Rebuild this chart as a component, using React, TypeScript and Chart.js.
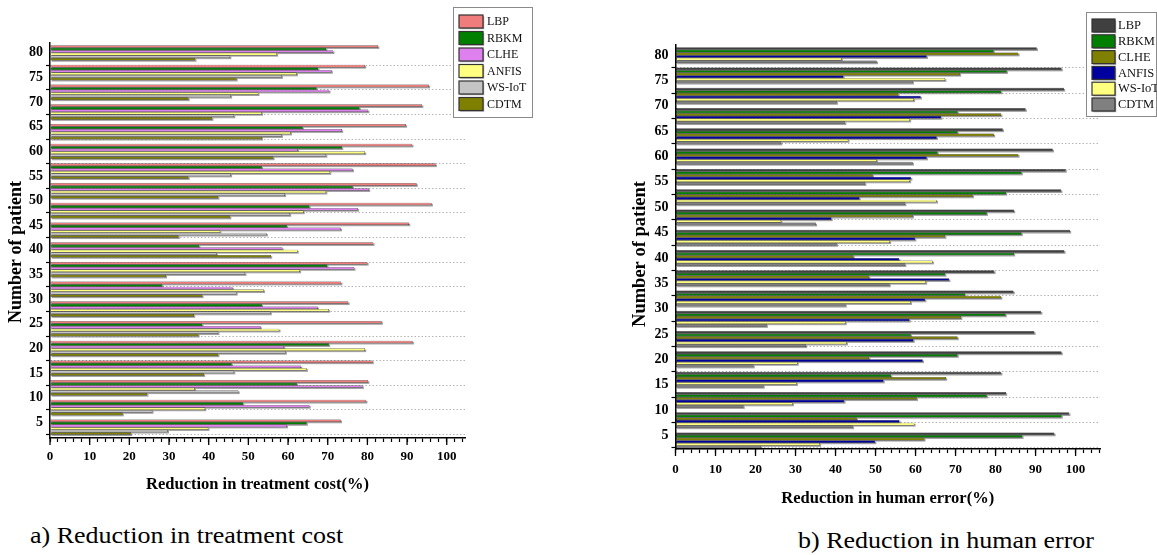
import React, { useEffect, useRef } from 'react';
import { Chart, registerables } from 'chart.js';

Chart.register(...registerables);

const FONT = "'Liberation Serif', 'Times New Roman', serif";

// Patient numbers (one group of bars per value), top to bottom
const patients = [80, 76, 72, 68, 64, 60, 56, 52, 48, 44, 40, 36, 32, 28, 24, 20, 16, 12, 8, 4];
const seriesNames = ['LBP', 'RBKM', 'CLHE', 'ANFIS', 'WS-IoT', 'CDTM'];

// (a) Reduction in treatment cost (%)
const costLBP = [82.7, 79.4, 95.5, 93.8, 89.7, 91.3, 97.2, 92.4, 96.2, 90.5, 81.5, 80.0, 73.4, 75.2, 83.6, 91.4, 81.3, 80.2, 79.7, 73.3];
const costRBKM = [69.6, 67.6, 67.2, 78.0, 63.7, 73.6, 53.4, 76.3, 65.4, 59.7, 37.6, 69.9, 28.3, 53.4, 38.4, 70.3, 45.8, 62.2, 48.7, 64.7];
const costCLHE = [71.4, 71.0, 70.4, 80.2, 73.6, 62.5, 76.3, 80.4, 77.6, 73.3, 58.6, 76.7, 46.0, 67.5, 53.1, 59.0, 63.3, 78.8, 65.4, 59.7];
const costANFIS = [57.2, 62.2, 52.5, 53.4, 60.7, 79.4, 70.6, 69.6, 63.9, 42.9, 62.4, 63.0, 53.9, 70.3, 57.8, 79.4, 64.7, 36.5, 39.1, 39.9];
const costWSIoT = [45.4, 58.4, 45.6, 46.4, 58.4, 69.6, 45.6, 59.2, 60.5, 54.6, 42.0, 49.2, 47.0, 55.6, 42.4, 59.4, 46.4, 47.5, 25.8, 29.7];
const costCDTM = [36.6, 47.0, 34.9, 40.9, 53.4, 56.3, 34.9, 42.4, 45.4, 32.4, 55.7, 29.2, 38.4, 36.3, 37.4, 42.4, 38.8, 24.5, 18.3, 20.4];

// (b) Reduction in human error (%)
const errLBP = [90.3, 96.5, 97.1, 87.5, 81.8, 94.3, 97.5, 96.4, 84.6, 98.6, 97.2, 79.7, 84.5, 91.4, 89.7, 96.5, 81.4, 82.6, 98.4, 94.7];
const errRBKM = [79.5, 82.8, 81.4, 70.5, 70.5, 65.5, 86.5, 82.6, 77.8, 86.5, 84.6, 67.4, 72.4, 82.5, 58.8, 70.5, 53.9, 77.8, 96.5, 86.7];
const errCLHE = [85.7, 71.1, 55.7, 81.4, 79.6, 85.7, 49.3, 74.3, 59.3, 67.4, 44.5, 48.4, 81.4, 71.4, 70.5, 48.4, 67.6, 60.3, 45.3, 62.2];
const errANFIS = [62.8, 42.0, 61.3, 66.4, 65.3, 62.8, 58.9, 46.0, 39.0, 59.9, 55.9, 68.4, 62.4, 58.5, 59.5, 61.8, 52.0, 42.2, 56.0, 49.9];
const errWSIoT = [41.5, 67.4, 59.6, 58.6, 43.2, 50.3, 58.6, 65.3, 26.4, 53.6, 64.3, 62.6, 58.8, 42.5, 42.8, 30.5, 30.3, 29.3, 59.7, 36.1];
const errCDTM = [50.3, 59.3, 40.3, 42.4, 26.4, 59.3, 47.4, 57.4, 35.1, 40.3, 57.4, 53.5, 42.5, 22.8, 32.6, 19.5, 22.0, 17.0, 44.3, 21.4];

const costColors = ['#F07C7C', '#007F00', '#DF80EF', '#FFFF80', '#C4C4C4', '#7F7F00'];
const errColors = ['#404040', '#007F00', '#7F7F00', '#00009F', '#FFFF80', '#808080'];

const xTickStep = 2;
const xLabelStep = 10;
const yTickStep = 5;

const shadowPlugin = {
  id: 'barShadow',
  beforeDatasetsDraw(chart: any) {
    const ctx = chart.ctx;
    ctx.save();
    ctx.fillStyle = 'rgba(120,120,120,0.7)';
    chart.data.datasets.forEach((_ds: any, i: number) => {
      const meta = chart.getDatasetMeta(i);
      meta.data.forEach((el: any) => {
        const p = el.getProps(['x', 'y', 'base', 'height'], true);
        const left = Math.min(p.base, p.x);
        const w = Math.abs(p.x - p.base);
        ctx.fillRect(left + 1.2, p.y - p.height / 2 + 1.2, w, p.height);
      });
    });
    ctx.restore();
  },
};

const majorTickPlugin = {
  id: 'majorTicks',
  afterDraw(chart: any) {
    const sc = chart.scales.x;
    const ctx = chart.ctx;
    ctx.save();
    ctx.strokeStyle = '#000';
    ctx.lineWidth = 1.3;
    sc.ticks.forEach((t: any, i: number) => {
      if (Math.abs(t.value % xLabelStep) > 1e-6) return;
      const px = sc.getPixelForTick(i);
      ctx.beginPath();
      ctx.moveTo(px, chart.chartArea.bottom);
      ctx.lineTo(px, chart.chartArea.bottom + 7);
      ctx.stroke();
    });
    ctx.restore();
  },
};

const yTitlePlugin = {
  id: 'yTitle',
  afterDraw(chart: any, _args: any, opts: any) {
    if (!opts || !opts.text) return;
    const ctx = chart.ctx;
    ctx.save();
    ctx.translate(opts.x, opts.y);
    ctx.rotate(-Math.PI / 2);
    ctx.fillStyle = '#000';
    ctx.font = opts.font;
    ctx.textAlign = 'center';
    ctx.textBaseline = 'middle';
    ctx.fillText(opts.text, 0, 0);
    ctx.restore();
  },
};

const legendBoxPlugin = {
  id: 'legendBox',
  afterDraw(chart: any, _args: any, opts: any) {
    if (!opts || opts.bx === undefined) return;
    const ctx = chart.ctx;
    ctx.save();
    ctx.fillStyle = '#ffffff';
    ctx.fillRect(opts.bx, opts.by, opts.bw, opts.bh);
    ctx.strokeStyle = '#8a8a8a';
    ctx.lineWidth = 1;
    ctx.strokeRect(opts.bx + 0.5, opts.by + 0.5, opts.bw - 1, opts.bh - 1);
    chart.data.datasets.forEach((ds: any, i: number) => {
      const y = opts.firstY + i * opts.rowH;
      ctx.fillStyle = '#a0a0a0';
      ctx.fillRect(opts.sx + 1.2, y + 1.2, opts.sw, opts.sh);
      ctx.fillStyle = ds.backgroundColor;
      ctx.fillRect(opts.sx, y, opts.sw, opts.sh);
      ctx.strokeStyle = '#333';
      ctx.lineWidth = 1.2;
      ctx.strokeRect(opts.sx, y, opts.sw, opts.sh);
      ctx.fillStyle = '#111';
      ctx.font = opts.font;
      ctx.textBaseline = 'middle';
      ctx.textAlign = 'left';
      ctx.fillText(ds.label, opts.tx, y + opts.sh / 2 + 0.5);
    });
    ctx.restore();
  },
};

interface PanelSpec {
  left: number;
  w: number;
  h: number;
  pad: { top: number; right: number; left: number; bottom: number };
  yWidth: number;
  xHeight: number;
  xMax: number;
  yMin: number;
  yMax: number;
  xLabelPad: number;
  xTitlePadBottom: number;
  series: number[][];
  colors: string[];
  xTitle: string;
  yTitle: any;
  legend: any;
}

function buildConfig(spec: PanelSpec): any {
  const datasets = spec.series.map((vals, i) => ({
    label: seriesNames[i],
    data: patients.map((p, j) => ({ x: vals[j], y: p })),
    backgroundColor: spec.colors[i],
    borderColor: '#1a1a1a',
    borderWidth: 0.5,
    borderSkipped: false,
    barPercentage: 1,
    categoryPercentage: 0.78,
  }));
  const tickFont = { family: FONT, size: 13, weight: 'bold' as const };
  return {
    type: 'bar',
    data: { datasets },
    options: {
      indexAxis: 'y',
      animation: false,
      responsive: false,
      devicePixelRatio: 1,
      layout: { padding: spec.pad },
      plugins: {
        legend: { display: false },
        tooltip: { enabled: false },
        legendBox: spec.legend,
        yTitle: spec.yTitle,
      },
      scales: {
        x: {
          type: 'linear',
          min: 0,
          max: spec.xMax,
          afterFit: (s: any) => {
            s.height = spec.xHeight;
          },
          ticks: {
            stepSize: xTickStep,
            includeBounds: false,
            autoSkip: false,
            maxRotation: 0,
            padding: spec.xLabelPad,
            color: '#000',
            font: tickFont,
            callback: (v: any) => (Math.abs(Number(v) % xLabelStep) < 1e-6 ? String(v) : ''),
          },
          grid: { drawOnChartArea: false, tickLength: 4, tickColor: '#000', tickWidth: 1.2 },
          border: { display: true, color: '#000', width: 1.5, z: 1 },
          title: {
            display: true,
            text: spec.xTitle,
            color: '#000',
            font: { family: FONT, size: 16.5, weight: 'bold' },
            padding: { top: 0, bottom: spec.xTitlePadBottom },
          },
        },
        y: {
          type: 'linear',
          min: spec.yMin,
          max: spec.yMax,
          offset: false,
          afterFit: (s: any) => {
            s.width = spec.yWidth;
          },
          ticks: {
            stepSize: yTickStep,
            includeBounds: false,
            autoSkip: false,
            padding: 3,
            color: '#000',
            font: { family: FONT, size: 14, weight: 'bold' },
          },
          grid: {
            offset: true,
            drawOnChartArea: true,
            color: '#b4b4b4',
            lineWidth: 1,
            tickLength: 4,
            tickColor: '#000',
            tickWidth: 1.2,
          },
          border: { display: true, color: '#000', width: 1.5, dash: [1.5, 2], z: 1 },
          title: { display: false },
        },
      },
    },
    plugins: [shadowPlugin, majorTickPlugin, legendBoxPlugin, yTitlePlugin],
  };
}

const leftSpec: PanelSpec = {
  left: 0,
  w: 570,
  h: 500,
  pad: { top: 43, right: 105, left: 0, bottom: 0 },
  yWidth: 50,
  xHeight: 62,
  xMax: 104.6,
  yMin: 1.8,
  yMax: 82,
  xLabelPad: 7,
  xTitlePadBottom: 5,
  series: [costLBP, costRBKM, costCLHE, costANFIS, costWSIoT, costCDTM],
  colors: costColors,
  xTitle: 'Reduction in treatment cost(%)',
  yTitle: { text: 'Number of patient', x: 16, y: 252, font: `bold 18px ${FONT}` },
  legend: { bx: 453, by: 7, bw: 80, bh: 111, sx: 459, sw: 24, sh: 13, firstY: 15, rowH: 16.5, tx: 487, font: `12px ${FONT}` },
};

const rightSpec: PanelSpec = {
  left: 620,
  w: 537,
  h: 515,
  pad: { top: 45, right: 57, left: 0, bottom: 0 },
  yWidth: 55.5,
  xHeight: 66,
  xMax: 106.1,
  yMin: 2.3,
  yMax: 82,
  xLabelPad: 9,
  xTitlePadBottom: 6,
  series: [errLBP, errRBKM, errCLHE, errANFIS, errWSIoT, errCDTM],
  colors: errColors,
  xTitle: 'Reduction in human error(%)',
  yTitle: { text: 'Number of patient', x: 20, y: 254, font: `bold 18.5px ${FONT}` },
  legend: { bx: 466, by: 12, bw: 71, bh: 105, sx: 472, sw: 23, sh: 13, firstY: 19, rowH: 15.8, tx: 498, font: `12.5px ${FONT}` },
};

function Panel({ spec }: { spec: PanelSpec }) {
  const ref = useRef<HTMLCanvasElement>(null);
  useEffect(() => {
    if (!ref.current) return;
    const chart = new Chart(ref.current, buildConfig(spec));
    return () => chart.destroy();
  }, [spec]);
  return (
    <canvas
      ref={ref}
      width={spec.w}
      height={spec.h}
      style={{ position: 'absolute', left: spec.left, top: 0, width: spec.w, height: spec.h }}
    />
  );
}

const captionStyle: React.CSSProperties = {
  position: 'absolute',
  fontFamily: FONT,
  fontSize: 26,
  lineHeight: '26px',
  color: '#000',
  whiteSpace: 'nowrap',
  transform: 'scale(1, 0.9)',
  transformOrigin: 'left top',
};

export default function App() {
  return (
    <div style={{ position: 'absolute', left: 0, top: 0, width: 1157, height: 555, background: '#fff', overflow: 'hidden' }}>
      <Panel spec={leftSpec} />
      <Panel spec={rightSpec} />
      <div style={{ ...captionStyle, left: 30, top: 524 }}>a) Reduction in treatment cost</div>
      <div style={{ ...captionStyle, left: 798, top: 529 }}>b) Reduction in human error</div>
    </div>
  );
}
